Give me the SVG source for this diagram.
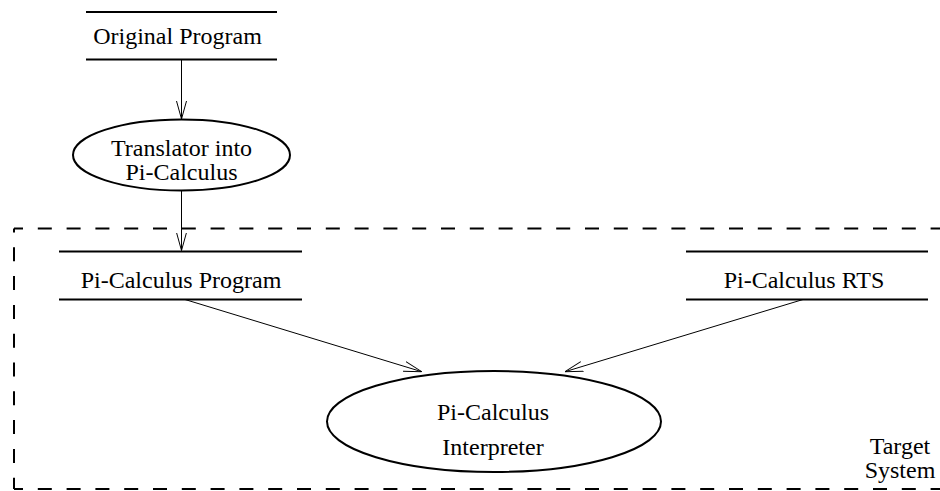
<svg xmlns="http://www.w3.org/2000/svg" width="940" height="491" viewBox="0 0 940 491">
  <style>
    text { font-family: "Liberation Serif", "Times New Roman", serif; font-size: 24px; fill: #000; text-anchor: middle; }
    .bar { stroke: #000; stroke-width: 2; fill: none; }
    .oval { stroke: #000; stroke-width: 2; fill: #fff; }
    .edge { stroke: #000; stroke-width: 1; fill: none; marker-end: url(#open); }
    .frame { stroke: #000; stroke-width: 2; fill: none; stroke-dasharray: 14 14.8; }
  </style>
  <defs>
    <marker id="open" viewBox="0 0 18 12" refX="18" refY="6" markerWidth="18" markerHeight="12" markerUnits="userSpaceOnUse" orient="auto">
      <path d="M0,1 L18,6 L0,11" fill="none" stroke="#000" stroke-width="1"/>
    </marker>
  </defs>

  <!-- dashed boundary of the target system -->
  <g id="target-system">
    <line class="frame" x1="14" y1="228.5" x2="950" y2="228.5" stroke-dashoffset="5"/>
    <line class="frame" x1="14" y1="228.5" x2="14" y2="489" stroke-dashoffset="10"/>
    <line class="frame" x1="14" y1="489" x2="950" y2="489" stroke-dashoffset="5"/>
    <text x="900" y="454">Target</text>
    <text x="900" y="478">System</text>
  </g>

  <!-- connectors -->
  <g id="connectors">
    <line class="edge" x1="181.5" y1="60" x2="181.5" y2="119"/>
    <line class="edge" x1="181.5" y1="191" x2="181.5" y2="250.5"/>
    <line class="edge" x1="185" y1="299.5" x2="421.7" y2="371.7"/>
    <line class="edge" x1="803" y1="299.5" x2="565" y2="371.7"/>
  </g>

  <!-- data store: original program -->
  <g id="original-program">
    <line class="bar" x1="86" y1="12" x2="277" y2="12"/>
    <line class="bar" x1="86" y1="59.5" x2="277" y2="59.5"/>
    <text x="177.5" y="43.5">Original Program</text>
  </g>

  <!-- process: translator -->
  <g id="translator">
    <ellipse class="oval" cx="181.5" cy="155" rx="108.5" ry="35.5"/>
    <text x="181.5" y="156">Translator into</text>
    <text x="181.5" y="180">Pi-Calculus</text>
  </g>

  <!-- data store: translated program -->
  <g id="pi-program">
    <line class="bar" x1="59" y1="251.5" x2="302" y2="251.5"/>
    <line class="bar" x1="59" y1="299.5" x2="302" y2="299.5"/>
    <text x="181" y="288">Pi-Calculus Program</text>
  </g>

  <!-- data store: runtime system -->
  <g id="pi-rts">
    <line class="bar" x1="686" y1="251.5" x2="928" y2="251.5"/>
    <line class="bar" x1="686" y1="299.5" x2="928" y2="299.5"/>
    <text x="804" y="288">Pi-Calculus RTS</text>
  </g>

  <!-- process: interpreter -->
  <g id="interpreter">
    <ellipse class="oval" cx="494" cy="421.5" rx="167" ry="50.5"/>
    <text x="493" y="420">Pi-Calculus</text>
    <text x="493" y="455">Interpreter</text>
  </g>
</svg>
